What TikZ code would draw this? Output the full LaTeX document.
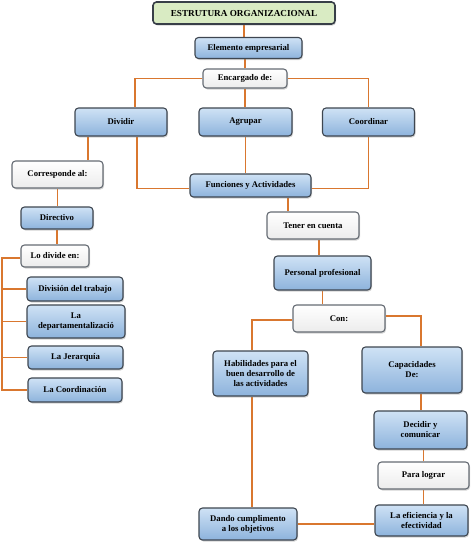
\documentclass[tikz,border=0pt]{standalone}
\usepackage{fontspec}
\setmainfont{Liberation Serif}
\usetikzlibrary{shadows,calc,backgrounds}
\definecolor{lnk}{HTML}{D9772F}
\definecolor{bord}{HTML}{3E4650}
\definecolor{bluetop}{HTML}{CFE2F5}
\definecolor{bluebot}{HTML}{8DB3DC}
\definecolor{greenfill}{HTML}{D9EBC3}
\tikzset{
  base/.style={rounded corners=3.5pt, draw=bord, line width=1.1pt, align=center,
    font=\fontsize{8.7}{10}\selectfont\bfseries, inner sep=1pt,
    drop shadow={shadow xshift=1pt, shadow yshift=-1.5pt, opacity=0.35}},
  bluebox/.style={base, top color=bluetop, bottom color=bluebot},
  whitebox/.style={base, top color=white, bottom color=white!85!gray, draw=bord!80},
  titlebox/.style={base, fill=greenfill, draw=bord!90!black, line width=1.6pt,
    font=\fontsize{9.2}{10.5}\selectfont\bfseries},
  lk/.style={draw=lnk, line width=1.2pt}
}
\begin{document}
\begin{tikzpicture}[x=1pt,y=-1pt]
\useasboundingbox (0,0) rectangle (474,546);
% nodes
\node[titlebox, minimum width=182pt, minimum height=22pt] (title) at (244,13) {ESTRUTURA ORGANIZACIONAL};
\node[bluebox, minimum width=107pt, minimum height=21pt] (elem) at (248.5,48) {Elemento empresarial};
\node[whitebox, minimum width=84pt, minimum height=19pt] (enc) at (245,78.5) {Encargado de:};
\node[bluebox, minimum width=92pt, minimum height=28pt] (div) at (121,122) {Dividir};
\node[bluebox, minimum width=93pt, minimum height=28pt] (agr) at (245.5,122) {Agrupar};
\node[bluebox, minimum width=92pt, minimum height=28pt] (coo) at (368.5,122) {Coordinar};
\node[bluebox, minimum width=121pt, minimum height=23pt] (fun) at (250.5,185.5) {Funciones y Actividades};
\node[whitebox, minimum width=91pt, minimum height=27pt] (corr) at (57.5,174.5) {Corresponde al:};
\node[bluebox, minimum width=72pt, minimum height=22pt] (dir) at (57,218) {Directivo};
\node[whitebox, minimum width=68pt, minimum height=22pt] (lod) at (55,256) {Lo divide en:};
\node[bluebox, minimum width=96pt, minimum height=24pt] (dtr) at (75,289) {División del trabajo};
\node[bluebox, minimum width=98pt, minimum height=33pt] (dep) at (76,321.5) {La\\departamentalizació};
\node[bluebox, minimum width=95pt, minimum height=23pt] (jer) at (75.5,357.5) {La Jerarquía};
\node[bluebox, minimum width=94pt, minimum height=24pt] (lco) at (75,390) {La Coordinación};
\node[whitebox, minimum width=92pt, minimum height=27pt] (ten) at (313,225.5) {Tener en cuenta};
\node[bluebox, minimum width=97pt, minimum height=34pt] (per) at (322.5,273) {Personal profesional};
\node[whitebox, minimum width=92pt, minimum height=27pt] (con) at (339,318.5) {Con:};
\node[bluebox, minimum width=95pt, minimum height=45pt] (hab) at (260.5,373.5) {Habilidades para el\\buen desarrollo de\\las actividades};
\node[bluebox, minimum width=100pt, minimum height=46pt] (cap) at (412,370) {Capacidades\\De:};
\node[bluebox, minimum width=93pt, minimum height=38pt] (dec) at (420.5,430) {Decidir y\\comunicar};
\node[whitebox, minimum width=91pt, minimum height=27pt] (par) at (423.5,475.5) {Para lograr};
\node[bluebox, minimum width=93pt, minimum height=31pt] (efi) at (421.5,520.5) {La eficiencia y la\\efectividad};
\node[bluebox, minimum width=98pt, minimum height=32pt] (dan) at (248,524) {Dando cumplimento\\a los objetivos};
\coordinate (trunk) at (2,0);
% connectors (behind the boxes)
\begin{scope}[on background layer]
\draw[lk] (title.south) -- (title.south |- elem.north);
\draw[lk] (enc.north) -- (enc.north |- elem.south);
\draw[lk] (enc.west) -| ([xshift=14pt]div.north);
\draw[lk] (enc.south) -- (enc.south |- agr.north);
\draw[lk] (enc.east) -| (coo.north);
\draw[lk] ([xshift=-33pt]div.south) -- ([xshift=30.5pt]corr.north);
\draw[lk] ([xshift=16pt]div.south) |- ([yshift=-3pt]fun.west);
\draw[lk] (agr.south) -- (agr.south |- fun.north);
\draw[lk] (coo.south) |- ([yshift=-3pt]fun.east);
\draw[lk] ([xshift=37.5pt]fun.south) -- ([xshift=-25pt]ten.north);
\draw[lk] ([xshift=6pt]ten.south) -- ([xshift=-3.5pt]per.north);
\draw[lk] (per.south) -- (per.south |- con.north);
\draw[lk] ([yshift=-1.5pt]con.west) -| ([xshift=-8.5pt]hab.north);
\draw[lk] ([yshift=2.5pt]con.east) -| ([xshift=9pt]cap.north);
\draw[lk] ([xshift=9pt]cap.south) -- ([xshift=9pt]cap.south |- dec.north);
\draw[lk] (par.north) -- (par.north |- dec.south);
\draw[lk] (par.south) -- (par.south |- efi.north);
\draw[lk] ([xshift=-8.5pt]hab.south) -- ([xshift=4pt]dan.north);
\draw[lk] (dan.east) -- (dan.east -| efi.west);
\draw[lk] (corr.south) -- (corr.south |- dir.north);
\draw[lk] (dir.south) -- (dir.south |- lod.north);
\draw[lk] ([yshift=-2pt]lod.west) -- ([yshift=-2pt]lod.west -| trunk) -- (lco.west -| trunk) -- (lco.west);
\draw[lk] (dtr.west -| trunk) -- (dtr.west);
\draw[lk] (dep.west -| trunk) -- (dep.west);
\draw[lk] (jer.west -| trunk) -- (jer.west);
\end{scope}
\end{tikzpicture}
\end{document}
